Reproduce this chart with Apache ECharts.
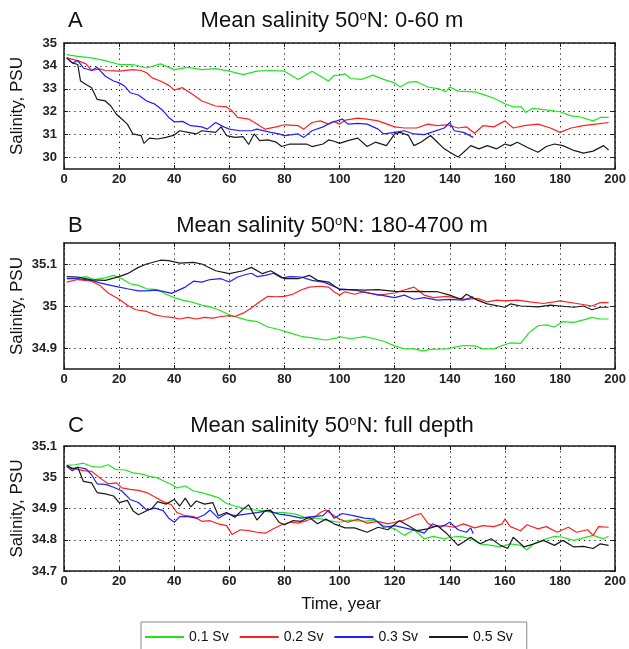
<!DOCTYPE html>
<html>
<head>
<meta charset="utf-8">
<script src="https://cdn.jsdelivr.net/npm/echarts@6/dist/echarts.min.js"></script>
<style>
html,body{margin:0;padding:0;background:#fff;}
#chart{width:629px;height:649px;}
</style>
</head>
<body>
<div id="chart"></div>
<script>
// ---------- DATA ----------
var seriesNames = ['0.1 Sv', '0.2 Sv', '0.3 Sv', '0.5 Sv'];
var xTicks = [0, 20, 40, 60, 80, 100, 120, 140, 160, 180, 200];
var aTicks = [30, 31, 32, 33, 34, 35];
var bTicks = [34.9, 35, 35.1];
var cTicks = [34.7, 34.8, 34.9, 35, 35.1];
var panelTitles = ['Mean salinity 50{s|o}N: 0-60 m', 'Mean salinity 50{s|o}N: 180-4700 m', 'Mean salinity 50{s|o}N: full depth'];
var panelLetters = ['A', 'B', 'C'];

// Panel A: 0-60 m  [year, salinity]
var aGreen = [[1,34.49],[5,34.42],[10,34.35],[15,34.23],[20,34.06],[25,34.06],[30,33.91],[35,34.09],[40,33.84],[45,33.94],[50,33.84],[55,33.88],[60,33.77],[65,33.62],[70,33.77],[75,33.8],[80,33.77],[85,33.41],[90,33.77],[96,33.34],[98,33.58],[100,33.6],[102,33.65],[104,33.45],[108,33.41],[112,33.6],[116,33.41],[120,33.26],[122,33.08],[125,33.29],[128,33.31],[132,33.08],[136,33.0],[138.5,32.87],[140,33.08],[143,32.9],[149,32.87],[152,32.76],[156,32.59],[160,32.35],[163,32.21],[166,32.21],[167.5,31.97],[170,32.15],[175,32.08],[180,32.0],[184,31.82],[187,31.78],[192,31.6],[194.6,31.75],[197.6,31.75]];
var aRed = [[1,34.35],[5,34.23],[8,34.09],[10,33.8],[13,33.87],[15,33.8],[20,33.77],[25,33.84],[28,33.8],[30,33.7],[32,33.48],[35,33.34],[38,33.15],[40,32.95],[43,33.05],[47,32.73],[50,32.47],[55,32.25],[59,32.21],[61,32.04],[63,31.75],[67,31.68],[70,31.46],[73,31.24],[77,31.34],[80,31.43],[85,31.39],[87,31.24],[90,31.53],[93,31.6],[96,31.46],[98,31.58],[100,31.46],[102,31.63],[106.6,31.72],[110,31.68],[114,31.6],[120,31.34],[123.5,31.29],[128,31.29],[132,31.46],[135.5,31.39],[139,31.43],[143,31.29],[146,31.34],[149,31.06],[152,31.39],[156,31.34],[160,31.6],[163,31.29],[167,31.39],[172,31.46],[176.5,31.29],[180,31.1],[184,31.29],[188.5,31.39],[193,31.46],[197.6,31.53]];
var aBlue = [[1,34.35],[3,34.13],[5,34.23],[7,33.91],[10,33.8],[12,33.94],[15,33.55],[18,33.34],[20,33.26],[22,33.12],[24,32.83],[27,32.73],[30,32.47],[33,32.33],[36,32.04],[38,31.75],[40,31.56],[43,31.58],[46,31.39],[50,31.34],[52,31.24],[55,31.53],[58,31.34],[60,31.24],[64,31.17],[68,31.17],[70,31.24],[75,31.1],[78,31.03],[80,30.96],[85,31.03],[87,30.88],[90,31.17],[94,31.34],[97,31.53],[99,31.6],[101,31.68],[103,31.46],[106.6,31.49],[110,31.46],[114,31.24],[116,31.03],[120,31.1],[123.5,31.17],[127,31.03],[130.7,31.0],[134,31.13],[138,31.29],[140,31.53],[141.6,31.17],[145,31.1],[148.5,30.88]];
var aBlack = [[1,34.35],[3,34.13],[5,34.06],[6,33.34],[8,33.19],[10,33.05],[12,32.54],[15,32.47],[17,32.25],[19,31.89],[21,31.68],[23,31.46],[25,31.03],[28,30.96],[29,30.62],[31,30.85],[34,30.81],[37,30.88],[40,30.98],[42,31.17],[45,31.1],[48,31.03],[50,31.17],[55,31.1],[57,31.34],[59,30.96],[62,30.88],[65,30.91],[67,30.57],[69,31.03],[71,30.74],[74,30.77],[77,30.67],[79,30.48],[82,30.59],[85,30.59],[88,30.59],[90,30.48],[94,30.59],[96,30.77],[98,30.71],[100,30.62],[103,30.74],[106.6,30.85],[110,30.48],[113,30.67],[117,30.52],[120,31.03],[122,31.1],[125,30.96],[127,30.52],[129.5,30.67],[133,30.96],[135.5,30.67],[138,30.38],[140,30.23],[143,30.02],[145,30.23],[147.6,30.52],[150.6,30.38],[153.6,30.52],[157,30.38],[160,30.59],[162,30.52],[164.5,30.67],[168,30.45],[172,30.23],[175,30.48],[178,30.59],[181,30.52],[185,30.31],[188.5,30.19],[192,30.28],[195.8,30.52],[197.6,30.33]];

// Panel B: 180-4700 m
var bGreen = [[1,35.065],[5,35.067],[8,35.070],[11,35.063],[15,35.067],[18,35.073],[21,35.065],[24,35.053],[27,35.049],[30,35.041],[34,35.039],[37,35.028],[40,35.020],[43,35.014],[46,35.010],[50,35.002],[53,34.998],[56,34.991],[60,34.979],[63,34.973],[66,34.967],[70,34.963],[74,34.950],[78,34.944],[82,34.936],[86,34.928],[90,34.924],[95,34.919],[99,34.924],[100,34.927],[104,34.922],[109,34.927],[112.6,34.922],[116,34.916],[120,34.905],[123.5,34.898],[127,34.898],[130,34.893],[134,34.897],[139,34.898],[141.6,34.902],[145,34.906],[149,34.905],[152,34.898],[156,34.898],[159,34.906],[162,34.912],[165.7,34.911],[168.7,34.936],[172,34.953],[175,34.955],[178,34.950],[181,34.963],[185,34.961],[188.5,34.967],[191.6,34.973],[194.6,34.969],[197.6,34.969]];
var bRed = [[1,35.057],[5,35.063],[10,35.059],[13,35.049],[16,35.031],[20,35.016],[23,35.002],[26,34.991],[30,34.987],[33,34.979],[36,34.975],[39,34.973],[42,34.969],[45,34.973],[48,34.969],[51,34.973],[54,34.971],[57,34.975],[60,34.977],[62,34.975],[65,34.983],[68,34.995],[71,35.010],[74,35.023],[77,35.022],[80,35.023],[83,35.028],[86,35.038],[89,35.045],[93,35.047],[96,35.045],[98,35.034],[100,35.026],[102,35.034],[105.4,35.028],[109,35.034],[114,35.026],[120,35.031],[123.5,35.038],[127,35.045],[130.7,35.026],[134,35.020],[139,35.023],[143,35.018],[146,35.016],[150,35.018],[153.6,35.010],[157,35.014],[160,35.012],[164.5,35.014],[169,35.010],[174,35.006],[180,35.012],[186,35.006],[191.6,35.000],[194.6,35.008],[197.6,35.008]];
var bBlue = [[1,35.065],[5,35.065],[10,35.061],[13,35.055],[17,35.049],[20,35.045],[23,35.041],[27,35.036],[30,35.036],[33,35.038],[36,35.035],[39,35.030],[41,35.036],[44,35.045],[47,35.059],[50,35.057],[53,35.063],[57,35.065],[60,35.057],[63,35.069],[66,35.075],[68,35.078],[70,35.070],[73,35.073],[76,35.078],[79,35.067],[82,35.070],[86,35.069],[90,35.061],[94,35.057],[96,35.052],[100,35.041],[105.4,35.038],[110,35.031],[115,35.026],[120,35.020],[123.5,35.026],[127,35.016],[130.7,35.020],[135.5,35.014],[140,35.016],[145,35.014],[148.5,35.022]];
var bBlack = [[1,35.070],[5,35.069],[10,35.062],[15,35.061],[20,35.070],[23,35.077],[27,35.092],[30,35.100],[35,35.109],[38,35.108],[42,35.102],[47,35.104],[50,35.100],[55,35.084],[60,35.077],[65,35.084],[68,35.092],[72,35.077],[75,35.084],[80,35.065],[85,35.065],[89,35.073],[92,35.061],[96,35.057],[100,35.039],[104,35.039],[109,35.038],[114,35.039],[120,35.035],[125,35.034],[128,35.035],[132,35.034],[135.5,35.034],[140,35.026],[144,35.016],[146,35.028],[150,35.014],[153.6,35.005],[160,34.997],[162,35.005],[165.7,35.000],[172,34.998],[176.5,35.002],[180,35.000],[185,34.997],[188.5,35.000],[191.6,34.991],[194.6,34.997],[197.6,34.997]];

// Panel C: full depth
var cGreen = [[1,35.038],[4,35.040],[7,35.045],[10,35.035],[13,35.032],[16,35.040],[19,35.024],[22,35.024],[25,35.014],[28,35.011],[31,35.003],[34,34.998],[36,34.989],[39,34.977],[41,34.966],[44,34.972],[47,34.956],[50,34.951],[53,34.943],[56,34.935],[59,34.916],[62,34.908],[65,34.901],[68,34.896],[72,34.893],[76,34.887],[80,34.887],[84,34.882],[88,34.869],[92,34.869],[96,34.861],[100,34.856],[104,34.863],[109,34.859],[112.6,34.863],[116,34.845],[120,34.835],[123.5,34.814],[127,34.832],[130.7,34.803],[134,34.811],[138,34.803],[140,34.808],[144,34.811],[147.6,34.803],[151,34.787],[155,34.782],[158.4,34.777],[162,34.787],[165.7,34.782],[168,34.768],[170.5,34.787],[174,34.800],[178,34.811],[181,34.808],[185,34.798],[188.5,34.806],[192,34.814],[195.8,34.803],[197.6,34.811]];
var cRed = [[1,35.035],[4,35.027],[7,35.021],[10,35.019],[13,34.998],[16,34.979],[19,34.982],[21,34.966],[24,34.961],[27,34.958],[30,34.951],[33,34.937],[36,34.922],[39,34.912],[41,34.887],[44,34.877],[47,34.874],[50,34.859],[53,34.861],[56,34.851],[59,34.845],[61,34.817],[64,34.832],[67,34.829],[70,34.824],[73,34.821],[76,34.835],[79,34.848],[82,34.856],[85,34.853],[88,34.861],[91,34.872],[93,34.887],[95,34.895],[98,34.877],[100,34.866],[103,34.856],[106.6,34.866],[110,34.853],[114,34.859],[117.5,34.851],[120,34.856],[123.5,34.863],[127,34.877],[129.5,34.884],[132,34.853],[134,34.842],[138,34.845],[141.6,34.840],[145,34.851],[149,34.838],[152,34.845],[156,34.842],[159,34.851],[160,34.866],[162,34.842],[165.7,34.829],[168,34.848],[172,34.835],[175,34.842],[179,34.824],[183,34.840],[186,34.824],[190,34.832],[192,34.814],[194,34.842],[197.6,34.840]];
var cBlue = [[1,35.035],[3,35.021],[5,35.032],[8,35.027],[10,35.008],[12,34.979],[15,34.977],[18,34.968],[21,34.956],[24,34.929],[27,34.919],[30,34.895],[33,34.901],[36,34.893],[38,34.869],[40,34.856],[42,34.874],[45,34.874],[48,34.869],[51,34.880],[53,34.895],[56,34.869],[59,34.884],[62,34.877],[66,34.882],[70,34.887],[74,34.893],[78,34.882],[82,34.877],[86,34.869],[90,34.874],[94,34.877],[96,34.895],[98,34.869],[101,34.884],[105,34.877],[109,34.869],[112.6,34.866],[116,34.840],[120,34.845],[123.5,34.838],[128,34.829],[130.7,34.821],[133.7,34.851],[136.7,34.840],[140,34.856],[143,34.832],[146,34.824],[147.6,34.838],[148.5,34.819]];
var cBlack = [[1,35.038],[3,35.027],[5,35.032],[7,34.987],[10,34.982],[12,34.951],[15,34.947],[18,34.940],[20,34.919],[23,34.926],[25,34.893],[27,34.880],[30,34.893],[32,34.901],[34,34.922],[37,34.914],[40,34.929],[42,34.908],[44,34.933],[46,34.905],[48,34.924],[51,34.914],[54,34.919],[56,34.877],[59,34.887],[62,34.872],[65,34.898],[67,34.912],[70,34.863],[73,34.893],[75,34.895],[78,34.856],[80,34.848],[83,34.861],[86,34.859],[89,34.872],[92,34.851],[95,34.866],[98,34.851],[102,34.838],[105.4,34.838],[110,34.824],[114,34.840],[117.5,34.832],[121.7,34.861],[125,34.845],[128,34.829],[132,34.835],[135.5,34.845],[139,34.819],[143,34.782],[145,34.793],[147.6,34.808],[151,34.787],[155,34.803],[158.4,34.782],[161,34.772],[163,34.808],[167,34.777],[170.5,34.787],[174,34.798],[178,34.782],[181,34.798],[185,34.777],[188.5,34.779],[192,34.772],[194.6,34.787],[197.6,34.782]];

// ---------- CHART ----------
var colors = ['#1ee61e', '#ff1f1f', '#1f1fff', '#1a1a1a'];
var panels = [
  {data: [aGreen, aRed, aBlue, aBlack], min: 29.5, max: 35, ticks: aTicks, top: 43, height: 126},
  {data: [bGreen, bRed, bBlue, bBlack], min: 34.85, max: 35.15, ticks: bTicks, top: 243, height: 126},
  {data: [cGreen, cRed, cBlue, cBlack], min: 34.7, max: 35.1, ticks: cTicks, top: 446, height: 125}
];
var tickFont = "'Liberation Sans Narrow', 'Liberation Sans', Arial, sans-serif";
var mainFont = "'Liberation Sans', Arial, sans-serif";
var axisLineStyle = {color: '#1a1a1a', width: 1.5};
var gridDots = {color: '#111', width: 1, type: [1.2, 4]};

var grid = [], xAxis = [], yAxis = [], series = [], graphic = [];
panels.forEach(function (p, i) {
  grid.push({left: 64, right: 11, top: p.top, height: p.height, containLabel: false});
});
panels.forEach(function (p, i) {
  xAxis.push({
    type: 'value', gridIndex: i, min: 0, max: 200, interval: 20, position: 'bottom',
    axisLine: {show: true, onZero: false, lineStyle: axisLineStyle},
    axisTick: {show: true, inside: true, length: 4, lineStyle: {color: '#1a1a1a'}},
    axisLabel: {show: true, margin: 4, fontFamily: tickFont, fontWeight: 'bold', fontSize: 13, color: '#222',
      customValues: xTicks},
    splitLine: {show: true, lineStyle: gridDots}
  });
});
panels.forEach(function (p, i) {
  xAxis.push({
    type: 'value', gridIndex: i, min: 0, max: 200, interval: 20, position: 'top',
    axisLine: {show: true, onZero: false, lineStyle: axisLineStyle},
    axisTick: {show: true, inside: true, length: 4, lineStyle: {color: '#1a1a1a'}},
    axisLabel: {show: false}, splitLine: {show: false}
  });
});
panels.forEach(function (p, i) {
  yAxis.push({
    type: 'value', gridIndex: i, min: p.min, max: p.max, position: 'left',
    axisLine: {show: true, onZero: false, lineStyle: axisLineStyle},
    axisTick: {show: true, inside: true, length: 4, customValues: p.ticks, lineStyle: {color: '#1a1a1a'}},
    axisLabel: {show: true, margin: 7, fontFamily: tickFont, fontWeight: 'bold', fontSize: 13, color: '#222',
      customValues: p.ticks, formatter: function (v) { return String(Math.round(v * 100) / 100); }},
    splitLine: {show: true, lineStyle: gridDots}
  });
});
panels.forEach(function (p, i) {
  yAxis.push({
    type: 'value', gridIndex: i, min: p.min, max: p.max, position: 'right',
    axisLine: {show: true, onZero: false, lineStyle: axisLineStyle},
    axisTick: {show: true, inside: true, length: 4, customValues: p.ticks, lineStyle: {color: '#1a1a1a'}},
    axisLabel: {show: false}, splitLine: {show: false}
  });
});
panels.forEach(function (p, i) {
  p.data.forEach(function (d, k) {
    series.push({
      type: 'line', name: seriesNames[k], xAxisIndex: i, yAxisIndex: i, data: d,
      symbol: 'none', showSymbol: false, silent: true, animation: false,
      lineStyle: {color: colors[k], width: 1.2}, itemStyle: {color: colors[k]}, z: 2 + k
    });
  });
  var titleY = [21, 226, 426][i];
  graphic.push({type: 'text', x: 68, y: titleY, silent: true,
    style: {text: panelLetters[i], font: '22px ' + mainFont, fill: '#111', align: 'left', verticalAlign: 'middle'}});
  graphic.push({type: 'text', x: 332, y: titleY, silent: true,
    style: {text: panelTitles[i], font: '22px ' + mainFont, fill: '#111', align: 'center', verticalAlign: 'middle',
      rich: {s: {fontSize: 13, fontFamily: mainFont, fill: '#111', verticalAlign: 'top', padding: [0, 0, 8, 0]}}}});
  graphic.push({type: 'text', x: 17, y: p.top + p.height / 2, rotation: Math.PI / 2, silent: true,
    style: {text: 'Salinity, PSU', font: '17px ' + mainFont, fill: '#111', align: 'center', verticalAlign: 'middle'}});
});
graphic.push({type: 'text', x: 341, y: 604, silent: true,
  style: {text: 'Time, year', font: '17px ' + mainFont, fill: '#111', align: 'center', verticalAlign: 'middle'}});

var chart = echarts.init(document.getElementById('chart'), null, {renderer: 'canvas'});
chart.setOption({
  backgroundColor: '#fff',
  animation: false,
  grid: grid, xAxis: xAxis, yAxis: yAxis, series: series, graphic: graphic,
  legend: {
    data: seriesNames, left: 141, top: 622, orient: 'horizontal', icon: 'rect',
    padding: [8, 14, 12, 4], itemGap: 11, itemWidth: 39, itemHeight: 2,
    borderColor: '#888', borderWidth: 1, backgroundColor: '#fff',
    textStyle: {fontFamily: mainFont, fontSize: 14, color: '#111'}
  }
});
</script>
</body>
</html>
